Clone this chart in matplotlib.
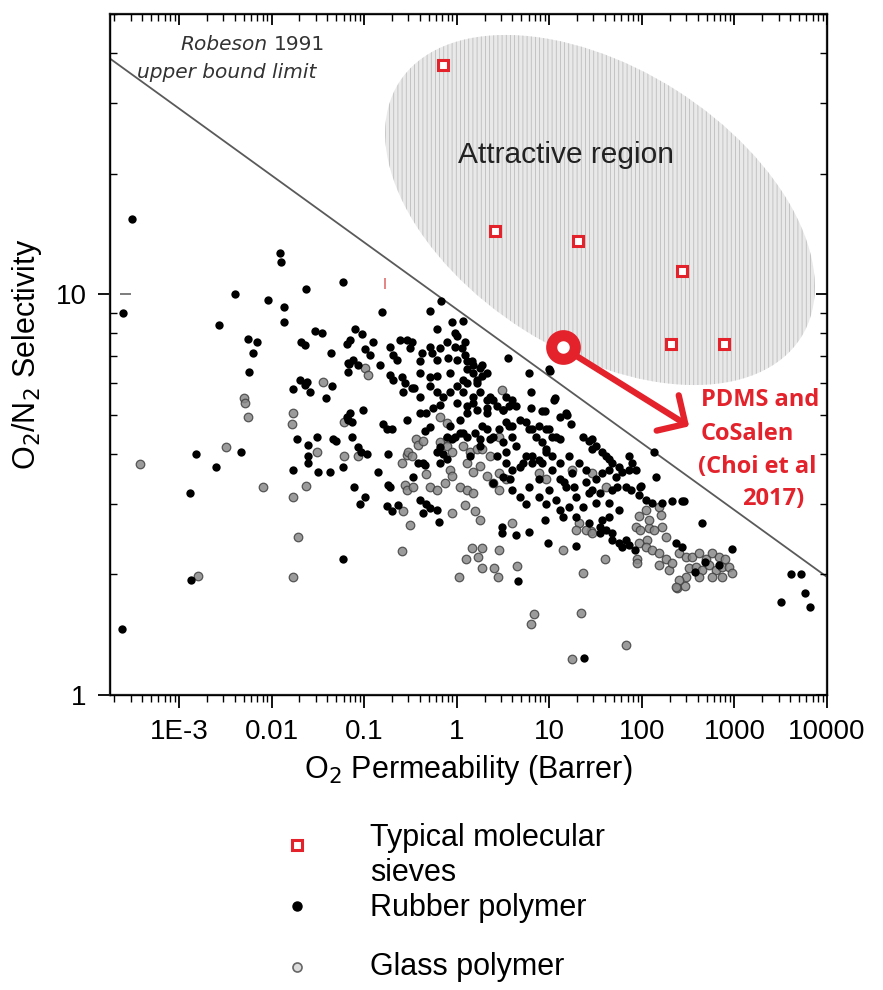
import matplotlib
matplotlib.use("Agg")
import matplotlib.pyplot as plt
import numpy as np
from matplotlib.patches import Ellipse
from matplotlib.transforms import Affine2D
from matplotlib.ticker import LogLocator, NullFormatter

plt.rcParams['font.family'] = ['Liberation Sans', 'DejaVu Sans']
plt.rcParams['hatch.linewidth'] = 0.5

# ---- data ----
rubber_perm = [
    3.1e-4, 0.0124, 0.0127, 0.059, 0.0235, 0.0040, 2.5e-4, 0.0092, 0.0137, 0.0027,
    0.0137, 0.0056, 0.0070, 0.0063, 0.0208, 0.023, 0.0295, 0.035, 0.044, 0.065,
    0.0057, 0.0203, 0.024, 0.026, 0.023, 0.017, 0.045, 0.039, 0.019, 0.025,
    0.031, 0.050, 0.0047, 0.00154, 0.067, 0.068, 0.025, 0.0025, 0.00133, 0.017,
    0.059, 0.00136, 2.4e-4, 0.090, 0.078, 0.14, 0.18, 0.176, 0.29, 0.097,
    0.176, 0.067, 0.070, 0.046, 0.074, 0.092, 0.107, 0.18, 0.34,
    0.43, 0.067, 0.086, 0.148, 0.26, 0.35, 0.61, 0.71, 0.40, 0.51,
    0.71, 0.025, 0.032, 0.043, 0.059, 0.43, 0.51, 0.62, 0.64, 3.1,
    3.05, 4.4, 6.1, 9.8, 4.6, 24, 19.5, 35, 48, 57,
    73, 450, 940, 4100, 5200, 5800, 3200, 6500, 136, 270,
    3.6, 6.1, 10.2, 11.5, 15.7, 8.9, 6.4, 1.86, 1.22, 1.45,
    0.78, 1.0, 23, 29, 32, 37, 44.5, 73, 79, 87,
    96, 129, 166, 212, 287,
    0.155, 0.51, 0.67, 0.61, 0.90, 1.16, 0.95, 0.079, 0.095, 0.070,
    0.124, 0.102, 0.115, 0.243, 0.29, 0.33, 0.31, 0.19, 0.205, 0.225,
    0.51, 0.66, 0.54, 0.42, 0.40, 0.076, 0.95, 1.22, 1.13, 0.80,
    1.0, 1.28, 1.49,
    0.19, 0.205, 0.255, 0.275, 0.40, 0.51, 0.62, 0.33, 0.51, 0.40,
    0.84, 1.0, 1.28, 1.65, 1.9, 1.28, 1.49, 1.77, 2.1, 1.16,
    1.49, 1.77, 2.1, 3.45, 4.0, 4.4, 3.7, 2.45, 2.7, 3.15,
    1.0, 1.28, 1.65, 2.1, 6.4, 8.4, 11.3, 15.2, 0.66, 0.55, 0.47,
    0.16, 0.20, 0.065, 0.074, 0.086,
    0.38, 0.45, 0.45, 0.95, 1.08, 0.78, 0.61,
    1.28, 1.56, 1.77, 2.1, 2.45, 3.45, 4.0, 4.8, 5.6, 6.5, 7.8, 9.3, 10.8, 12.9, 12.9,
    3.45, 4.0, 4.8, 5.6, 6.5, 7.8, 9.3, 10.8, 12.9, 4.0, 4.8, 5.6, 7.8, 9.3, 11.8,
    0.66, 0.78, 0.19, 0.102, 0.40, 0.47, 0.2, 0.23,
    17.3, 27, 29, 41, 48, 57, 37, 44.5, 53, 61, 73, 141, 98,
    14.6, 18.7, 25, 29, 35, 48, 54, 67, 77, 94, 110,
    37, 44.5, 35, 41, 48, 67, 61, 84, 233, 272, 376, 482, 682, 10,
    0.61, 0.84, 1.16, 1.65, 2.27, 3.14, 1.49, 2.1, 1.28, 1.08,
    0.84, 0.66, 0.90, 1.16, 1.9, 2.9, 3.7, 4.0, 3.15, 2.27,
    1.77, 1.38, 2.7, 3.45, 4.4, 6.1, 7.2, 8.4, 10, 11.8,
    9.3, 6.5, 5.2, 3.72, 3.14, 2.45, 8.4, 10.8, 12.9, 7.8,
    6.1, 10, 15.2, 17.7, 21, 16.5, 25, 32, 19.5, 27,
    23, 32, 44.5, 57, 16.5, 12.9, 13.9, 19.5, 27, 8.9,
]
rubber_sel = [
    15.4, 12.7, 12.0, 10.7, 10.3, 10.0, 9.0, 9.65, 9.3, 8.4,
    8.5, 7.75, 7.6, 7.15, 7.6, 7.45, 8.1, 8.0, 7.15, 7.5,
    6.4, 6.1, 6.05, 5.7, 5.95, 5.8, 5.9, 5.5, 4.35, 4.2,
    4.4, 4.3, 4.05, 4.0, 6.4, 6.7, 3.95, 3.7, 3.2, 3.65,
    2.18, 1.94, 1.46, 3.0, 3.3, 3.6, 3.35, 2.97, 4.85, 5.15,
    4.6, 4.85, 5.05, 4.35, 4.4, 4.05, 4.0, 4.0, 3.5,
    3.8, 6.75, 6.65, 6.65, 5.7, 5.85, 5.7, 5.55, 5.05, 4.65,
    4.0, 3.8, 3.6, 3.6, 3.7, 2.85, 2.93, 2.9, 2.7, 2.63,
    2.54, 2.5, 2.55, 2.4, 1.93, 1.24, 2.35, 2.54, 2.44, 2.4,
    2.37, 2.68, 2.32, 2.0, 2.0, 1.8, 1.71, 1.66, 4.05, 3.04,
    6.95, 6.35, 6.45, 5.5, 5.0, 5.1, 5.7, 6.65, 7.05, 6.8,
    7.6, 7.85, 4.4, 4.34, 4.17, 4.03, 3.87, 3.95, 3.8, 3.65,
    3.3, 3.02, 3.02, 3.04, 3.04,
    9.05, 9.1, 9.6, 8.2, 8.5, 8.55, 8.0, 8.2, 7.95, 7.7,
    7.6, 7.3, 7.05, 7.7, 7.7, 7.6, 7.35, 7.4, 7.05, 6.85,
    7.4, 7.35, 7.15, 7.15, 6.8, 6.85, 7.4, 7.6, 7.35, 6.95,
    6.85, 6.8, 6.65,
    6.3, 6.1, 6.2, 6.0, 6.35, 6.2, 6.25, 5.85, 5.9, 5.55,
    5.7, 5.9, 6.0, 6.1, 6.25, 6.5, 6.35, 6.55, 6.35, 5.7,
    5.55, 5.7, 5.45, 5.55, 5.45, 5.25, 5.25, 5.45, 5.25, 5.15,
    5.35, 5.25, 5.15, 5.2, 5.2, 5.1, 5.45, 5.05, 5.3, 5.2, 5.05,
    4.75, 4.6, 4.95, 4.8, 4.15,
    3.8, 3.75, 4.55, 4.4, 4.5, 4.4, 4.05,
    4.4, 4.5, 4.35, 4.6, 4.4, 4.8, 4.7, 4.85, 4.8, 4.6, 4.7, 4.6, 4.4, 4.35, 4.95,
    3.8, 3.65, 3.7, 3.95, 3.8, 3.85, 4.1, 3.95, 3.8, 3.25, 3.12, 3.0, 3.12, 3.0, 3.07,
    3.8, 3.87, 3.3, 3.12, 3.07, 3.0, 2.87, 2.98,
    4.75, 4.3, 4.1, 3.95, 3.8, 3.7, 3.58, 3.65, 3.5, 3.6, 3.65, 3.5, 3.33,
    3.4, 3.3, 3.4, 3.25, 3.2, 3.25, 3.3, 3.3, 3.25, 3.16, 3.07,
    2.74, 2.78, 2.63, 2.58, 2.54, 2.44, 2.34, 2.3, 2.4, 2.34, 2.03, 2.15, 2.11, 6.49,
    6.85, 6.35, 6.1, 6.0, 5.55, 5.15, 5.35, 5.05, 5.05, 4.85,
    4.7, 4.15, 4.35, 4.5, 4.7, 4.6, 4.68, 4.4, 4.27, 4.34,
    4.17, 3.95, 3.95, 4.03, 4.17, 4.62, 4.4, 4.27, 4.6, 4.4,
    4.03, 3.95, 3.8, 3.45, 3.5, 3.38, 3.8, 3.65, 3.45, 3.45,
    3.3, 3.25, 3.3, 3.58, 3.8, 3.95, 3.65, 3.45, 3.12, 3.2,
    2.95, 3.02, 3.02, 2.9, 2.95, 2.9, 2.78, 2.78, 2.69, 2.74,
]

glass_perm = [
    0.036, 0.0050, 0.0052, 0.0056, 0.017, 0.0166, 0.0032, 0.060, 0.031,
    3.8e-4, 0.0081, 0.017, 0.0235, 0.0193, 0.017, 0.255, 0.0016, 0.275, 0.36,
    0.47, 0.29, 0.78, 0.74, 0.086, 0.26, 0.31, 0.90, 1.22,
    1.56, 1.77, 4.0, 1.45, 1.9, 1.25, 1.7, 2.84, 1.9, 2.5,
    1.05, 2.77, 4.5, 6.9, 6.4, 23, 22, 17.7, 67, 13.9,
    28, 89, 114, 120, 241, 293, 154, 197, 324, 0.060,
    0.30, 0.33, 0.38, 0.43, 0.66, 0.78, 0.66, 0.78, 0.90, 1.16,
    1.38, 1.65, 1.9, 2.27, 2.9, 7.8, 9.3, 2.9, 3.45, 2.1,
    2.45, 2.9, 1.28, 1.49, 1.77, 1.08, 1.28, 1.49, 0.84, 0.90,
    0.51, 0.61, 0.255, 0.29, 0.34, 0.102, 0.11, 3.05,
    29, 17.7, 41, 110, 154, 94, 120, 162, 166, 87,
    96, 136, 184, 21, 25, 19.5, 29, 94, 110, 129,
    154, 184, 212, 253, 302, 349, 415, 490, 570, 682,
    800, 385, 447, 532, 630, 735, 875, 415, 570, 735,
    940, 302, 253, 233, 89, 40,
]
glass_sel = [
    6.05, 5.5, 5.35, 4.95, 5.05, 4.75, 4.15, 4.8, 4.03,
    3.76, 3.3, 3.12, 3.33, 2.48, 1.97, 2.29, 1.98, 3.35, 4.34,
    3.55, 3.98, 4.34, 3.38, 3.95, 2.87, 2.66, 2.85, 2.98,
    2.87, 2.74, 2.69, 2.33, 2.33, 2.19, 2.21, 2.3, 2.07, 2.08,
    1.97, 1.97, 2.1, 1.59, 1.5, 2.02, 1.6, 1.23, 1.33, 2.3,
    2.57, 2.18, 2.44, 2.61, 1.85, 1.87, 2.11, 2.05, 2.08, 3.95,
    4.03, 3.95, 4.2, 4.3, 4.95, 4.78, 4.27, 4.17, 4.03, 4.17,
    4.03, 4.1, 4.1, 3.95, 4.4, 3.58, 3.45, 3.58, 3.45, 3.51,
    3.38, 3.25, 3.8, 3.6, 3.72, 3.31, 3.25, 3.2, 3.65, 3.51,
    3.31, 3.25, 3.8, 3.25, 3.31, 6.55, 6.3, 5.78,
    3.58, 3.65, 3.31, 2.9, 2.95, 2.79, 2.74, 2.82, 2.63, 2.63,
    2.58, 2.58, 2.48, 2.69, 2.58, 2.58, 2.54, 2.4, 2.34, 2.3,
    2.26, 2.18, 2.14, 2.26, 2.21, 2.21, 2.26, 2.18, 2.26, 2.21,
    2.18, 2.09, 2.05, 2.11, 2.05, 2.09, 2.09, 1.97, 1.97, 1.97,
    2.02, 1.97, 1.94, 1.86, 2.14, 2.18,
]

sieve_perm = [0.72, 2.6, 20.6, 272, 207, 773]
sieve_sel = [37.4, 14.4, 13.6, 11.4, 7.5, 7.5]

pdms_perm = 13.9
pdms_sel = 7.37

robeson_perm = [1.8e-4, 1.0e4]
robeson_sel = [38.7, 1.97]

x_ticks = [1e-3, 1e-2, 0.1, 1, 10, 100, 1000, 10000]
x_tick_labels = ['1E-3', '0.01', '0.1', '1', '10', '100', '1000', '10000']
y_ticks = [1, 10]
y_tick_labels = ['1', '10']

RED = '#e3222b'
W, H = 883, 990

fig = plt.figure(figsize=(W / 100, H / 100), dpi=100)
ax = fig.add_axes([110 / W, 1 - 695 / H, 717 / W, 681 / H])
ax.set_xscale('log')
ax.set_yscale('log')
ax.set_xlim(1.8e-4, 1e4)
ax.set_ylim(1, 50)

# attractive region: hatched ellipse (pixel units inside axes)
ell = Ellipse((490, 485), 476, 284, angle=-32.4,
              facecolor='#e9e9e9', edgecolor='#b4b4b4', linewidth=0,
              hatch='||||', zorder=1,
              transform=Affine2D().scale(1 / 717, 1 / 681) + ax.transAxes)
ax.add_patch(ell)

ax.plot(robeson_perm, robeson_sel, color='#5a5a5a', lw=1.3, zorder=2)

ax.scatter(glass_perm, glass_sel, s=38, facecolor='#8a8a8a', edgecolor='#404040',
           linewidth=0.9, alpha=0.85, zorder=3)
ax.scatter(rubber_perm, rubber_sel, s=36, color='black', linewidth=0, zorder=4)

ax.plot(sieve_perm, sieve_sel, 's', ms=7, mew=2.2, mec=RED, mfc='white',
        ls='none', zorder=5)

# PDMS / CoSalen marker and arrow
ax.annotate('', xy=(324, 4.68), xytext=(pdms_perm, pdms_sel),
            arrowprops=dict(arrowstyle='->,head_length=0.75,head_width=0.75',
                            color=RED, lw=4.5, shrinkA=6, shrinkB=0,
                            mutation_scale=20), zorder=6)
ax.plot(pdms_perm, pdms_sel, 'o', ms=17, mew=8, mec=RED, mfc='white', zorder=7)

# stray marks in the original scan
ax.vlines(0.168, 10.3, 11.0, color='#e07070', lw=1.2, zorder=2)
ax.hlines(10, 2.3e-4, 3.0e-4, color='#666666', lw=1.2, zorder=2)

# ticks
ax.set_xticks(x_ticks, x_tick_labels)
ax.set_yticks(y_ticks, y_tick_labels)
for axis in (ax.xaxis, ax.yaxis):
    axis.set_minor_locator(LogLocator(base=10, subs=np.arange(2, 10), numticks=50))
    axis.set_minor_formatter(NullFormatter())
ax.tick_params(axis='x', which='major', direction='out', length=9, width=1.3,
               labelsize=20, pad=8)
ax.tick_params(axis='x', which='minor', direction='out', length=5, width=1)
ax.tick_params(axis='y', which='major', direction='out', length=9, width=1.3,
               labelsize=20, pad=8)
ax.tick_params(axis='y', which='minor', direction='in', length=5, width=1)
for sp in ax.spines.values():
    sp.set_linewidth(1.6)
    sp.set_color('#222222')

axt = ax.twiny()
axt.set_xscale('log')
axt.set_xlim(ax.get_xlim())
axt.set_xticks(x_ticks)
axt.xaxis.set_minor_locator(LogLocator(base=10, subs=np.arange(2, 10), numticks=50))
axt.xaxis.set_minor_formatter(NullFormatter())
axt.tick_params(axis='x', which='major', direction='in', length=8, width=1.3,
                labeltop=False)
axt.tick_params(axis='x', which='minor', direction='in', length=5, width=1)

axr = ax.twinx()
axr.set_yscale('log')
axr.set_ylim(ax.get_ylim())
axr.set_yticks(y_ticks)
axr.yaxis.set_minor_locator(LogLocator(base=10, subs=np.arange(2, 10), numticks=50))
axr.yaxis.set_minor_formatter(NullFormatter())
axr.tick_params(axis='y', which='major', direction='in', length=8, width=1.3,
                labelright=False)
axr.tick_params(axis='y', which='minor', direction='in', length=5, width=1)

ax.set_xlabel('O$_2$ Permeability (Barrer)', fontsize=22, labelpad=6)
ax.set_ylabel('O$_2$/N$_2$ Selectivity', fontsize=22, labelpad=8)

# overlay in figure pixels for free text and the legend
ov = fig.add_axes([0, 0, 1, 1])
ov.set_xlim(0, W)
ov.set_ylim(H, 0)
ov.axis('off')

ov.text(268, 45, 'Robeson', family='DejaVu Sans', style='italic', fontsize=14.5,
        color='#333333', ha='right', va='center')
ov.text(274, 45, '1991', family='DejaVu Sans', fontsize=14.5,
        color='#333333', ha='left', va='center')
ov.text(137, 73, 'upper bound limit', family='DejaVu Sans', style='italic',
        fontsize=14.5, color='#333333', ha='left', va='center')
ov.text(566, 155, 'Attractive region', fontsize=21.5, color='#222222',
        ha='center', va='center')

pdms_lines = [('PDMS and', 701, 400), ('CoSalen', 701, 434),
              ('(Choi et al', 698, 467), ('2017)', 742, 499)]
for txt, tx, ty in pdms_lines:
    ov.text(tx, ty, txt, family='Open Sans', fontweight='bold', fontsize=17,
            color=RED, ha='left', va='center')

ov.plot([297], [845], 's', ms=7, mew=2.2, mec=RED, mfc='white')
ov.text(370, 838, 'Typical molecular', fontsize=22, ha='left', va='center')
ov.text(370, 873, 'sieves', fontsize=22, ha='left', va='center')
ov.plot([297], [906], 'o', ms=6.5, color='black')
ov.text(370, 908, 'Rubber polymer', fontsize=22, ha='left', va='center')
ov.plot([297], [967], 'o', ms=6.5, mfc='#dddddd', mec='#666666', mew=1.2)
ov.text(370, 967, 'Glass polymer', fontsize=22, ha='left', va='center')

fig.savefig('out.png', dpi=100)
